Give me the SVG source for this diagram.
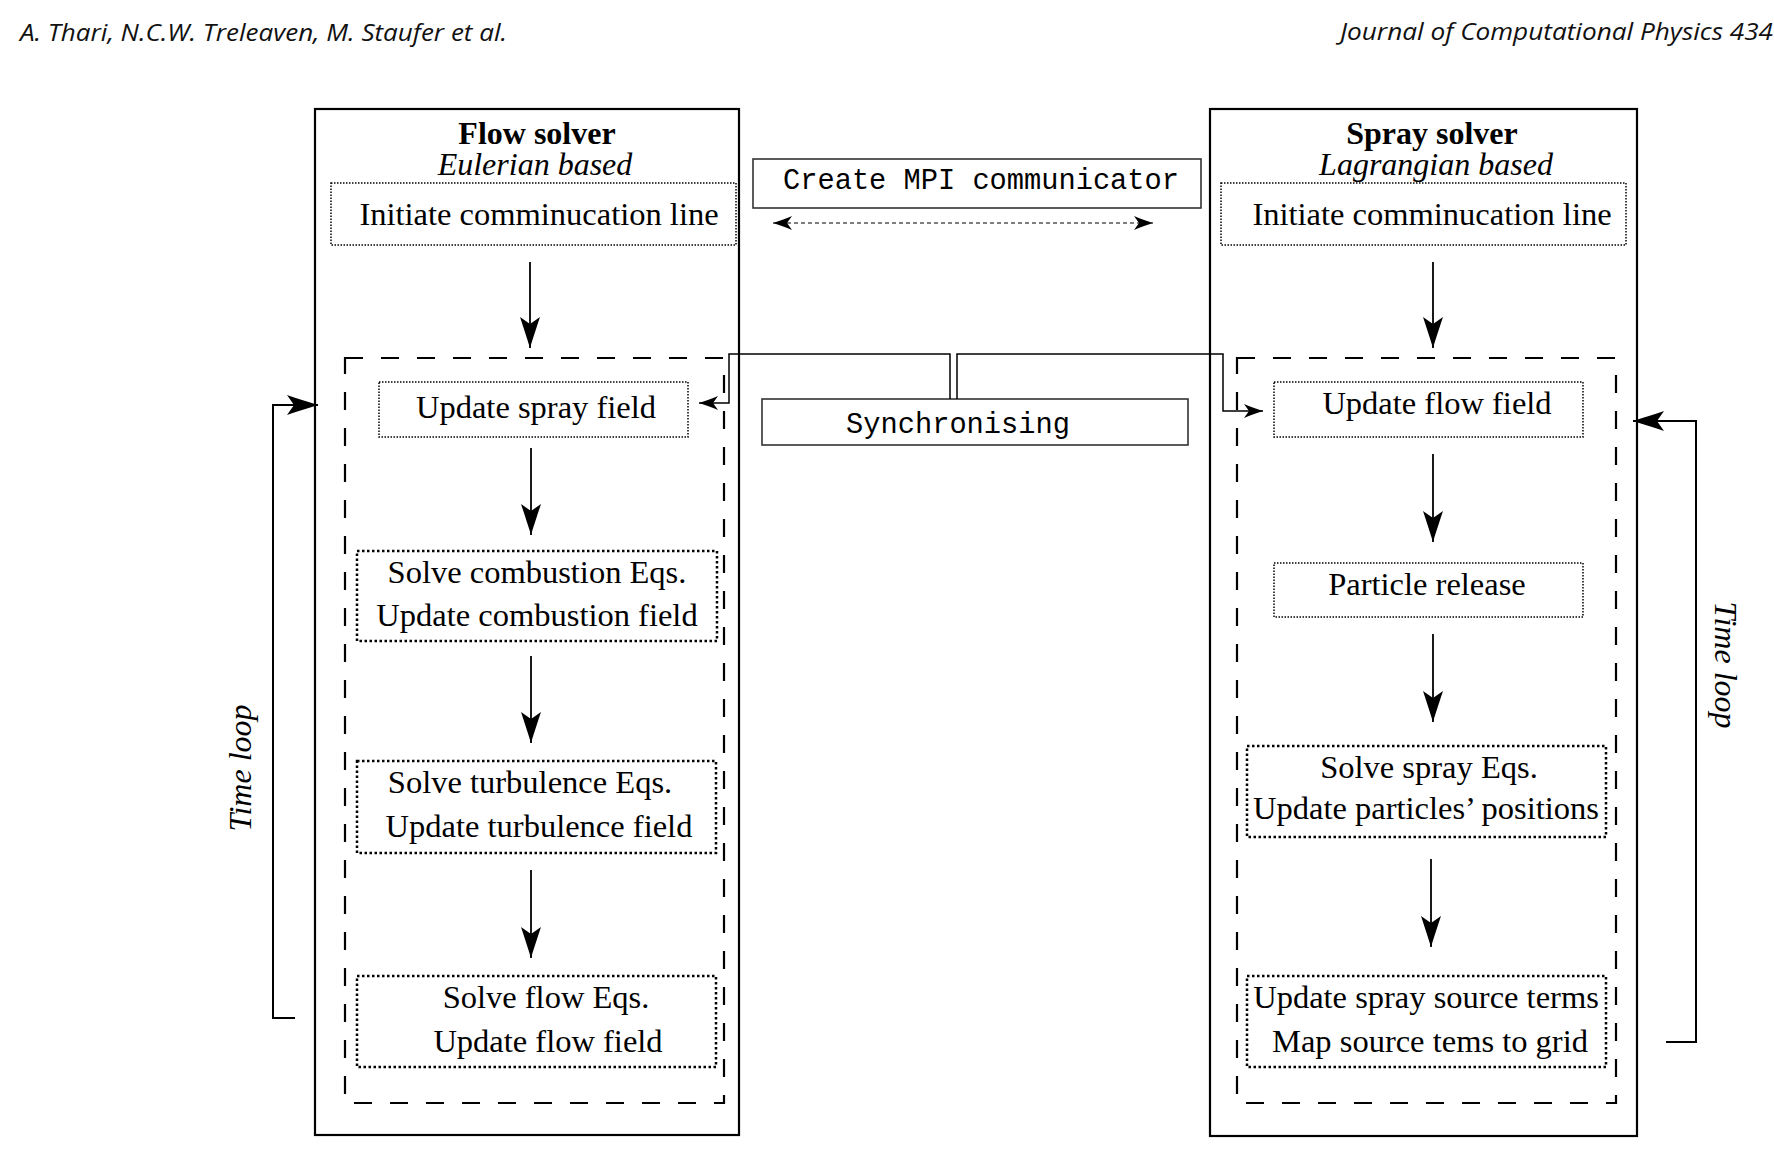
<svg xmlns="http://www.w3.org/2000/svg" width="1774" height="1158" viewBox="0 0 1774 1158">
<defs>
<marker id="big" markerUnits="userSpaceOnUse" viewBox="-34 -12 36 24" refX="0" refY="0" markerWidth="36" markerHeight="24" orient="auto" overflow="visible">
<path d="M0,0 C-10,-3 -22,-7 -31,-10 L-24,0 L-31,10 C-22,7 -10,3 0,0 Z" fill="#000"/>
</marker>
<marker id="small" markerUnits="userSpaceOnUse" viewBox="-22 -8 24 16" refX="0" refY="0" markerWidth="24" markerHeight="16" orient="auto-start-reverse" overflow="visible">
<path d="M0,0 C-7,-2 -14,-5 -19,-7 L-14,0 L-19,7 C-14,5 -7,2 0,0 Z" fill="#000"/>
</marker>
</defs>
<style>
.hdr{font-family:"Open Sans","Noto Sans",sans-serif;font-style:italic;font-size:24px;fill:#111}
.t{font-family:"Liberation Serif","Times New Roman",serif;font-size:32.5px;fill:#000}
.ti{font-family:"Liberation Serif","Times New Roman",serif;font-size:32px;font-style:italic;fill:#000}
.tb{font-family:"Liberation Serif","Times New Roman",serif;font-size:32px;font-weight:bold;fill:#000}
.m{font-family:"Liberation Mono","Courier New",monospace;font-size:28.7px;fill:#000}
.c{text-anchor:middle}
.outer{fill:none;stroke:#000;stroke-width:2.2}
.loop{fill:none;stroke:#000;stroke-width:2.2;stroke-dasharray:18 18}
.fine{fill:none;stroke:#000;stroke-width:1.5;stroke-dasharray:1.5 1.5}
.coarse{fill:none;stroke:#000;stroke-width:2.5;stroke-dasharray:2.5 2.5}
.mbox{fill:none;stroke:#333;stroke-width:1.6}
.arr{fill:none;stroke:#000;stroke-width:1.8;marker-end:url(#big)}
.tl{fill:none;stroke:#000;stroke-width:2;marker-end:url(#big)}
.sync{fill:none;stroke:#000;stroke-width:1.5;marker-end:url(#small)}
.mpi{fill:none;stroke:#000;stroke-width:1.2;stroke-dasharray:4 3;marker-start:url(#small);marker-end:url(#small)}
</style>
<rect width="1774" height="1158" fill="#fff"/>
<text class="hdr" x="20" y="41" textLength="487" lengthAdjust="spacingAndGlyphs">A. Thari, N.C.W. Treleaven, M. Staufer et al.</text>
<text class="hdr" x="1340" y="40" textLength="433" lengthAdjust="spacingAndGlyphs">Journal of Computational Physics 434</text>

<g id="flow-solver">
<rect class="outer" x="315" y="109" width="424" height="1026"/>
<text class="tb c" x="537" y="144">Flow solver</text>
<text class="ti c" x="535" y="175">Eulerian based</text>
</g>
<g id="spray-solver">
<rect class="outer" x="1210" y="109" width="427" height="1027"/>
<text class="tb c" x="1432" y="144">Spray solver</text>
<text class="ti c" x="1436" y="175">Lagrangian based</text>
</g>
<g id="flow-loop"><rect class="loop" x="345" y="358" width="379" height="745"/></g>
<g id="spray-loop"><rect class="loop" x="1237" y="358" width="379" height="745"/></g>

<g id="flow-init">
<rect class="fine" x="331" y="183" width="405" height="62"/>
<text class="t c" x="539" y="225">Initiate comminucation line</text>
</g>
<g id="spray-init">
<rect class="fine" x="1221" y="183" width="405" height="62"/>
<text class="t c" x="1432" y="225">Initiate comminucation line</text>
</g>
<g id="mpi">
<rect class="mbox" x="753" y="159" width="448" height="49"/>
<text class="m c" x="981" y="189">Create MPI communicator</text>
</g>
<g id="sync">
<rect class="mbox" x="762" y="399" width="426" height="46"/>
<text class="m c" x="958" y="433">Synchronising</text>
</g>

<g id="update-spray">
<rect class="fine" x="379" y="382" width="309" height="55"/>
<text class="t c" x="536" y="418">Update spray field</text>
</g>
<g id="combustion">
<rect class="coarse" x="357" y="551" width="360" height="90"/>
<text class="t c" x="537" y="583">Solve combustion Eqs.</text>
<text class="t c" x="537" y="626">Update combustion field</text>
</g>
<g id="turbulence">
<rect class="coarse" x="357" y="761" width="359" height="92"/>
<text class="t c" x="530" y="793">Solve turbulence Eqs.</text>
<text class="t c" x="539" y="837">Update turbulence field</text>
</g>
<g id="flow-eqs">
<rect class="coarse" x="357" y="976" width="359" height="91"/>
<text class="t c" x="546" y="1008">Solve flow Eqs.</text>
<text class="t c" x="548" y="1052">Update flow field</text>
</g>

<g id="update-flow">
<rect class="fine" x="1274" y="382" width="309" height="55"/>
<text class="t c" x="1437" y="414">Update flow field</text>
</g>
<g id="particle-release">
<rect class="fine" x="1274" y="563" width="309" height="54"/>
<text class="t c" x="1427" y="595">Particle release</text>
</g>
<g id="spray-eqs">
<rect class="coarse" x="1247" y="746" width="359" height="91"/>
<text class="t c" x="1429" y="778">Solve spray Eqs.</text>
<text class="t c" x="1426" y="819">Update particles’ positions</text>
</g>
<g id="source-terms">
<rect class="coarse" x="1247" y="976" width="359" height="91"/>
<text class="t c" x="1426" y="1008">Update spray source terms</text>
<text class="t c" x="1430" y="1052">Map source tems to grid</text>
</g>

<g id="time-loop-labels">
<text class="ti c" transform="translate(251,768) rotate(-90)">Time loop</text>
<text class="ti c" transform="translate(1715,665) rotate(90)">Time loop</text>
</g>

<g id="connectors">
<path class="arr" d="M530,262 V348"/>
<path class="arr" d="M531,448 V535"/>
<path class="arr" d="M531,656 V743"/>
<path class="arr" d="M531,870 V958"/>
<path class="arr" d="M1433,262 V348"/>
<path class="arr" d="M1433,454 V542"/>
<path class="arr" d="M1433,634 V722"/>
<path class="arr" d="M1431,859 V947"/>
<path class="tl" d="M295,1018 H273 V405 H318"/>
<path class="tl" d="M1666,1042 H1696 V421 H1633"/>
<path class="sync" d="M950,399 V354 H729 V403 H699"/>
<path class="sync" d="M957,399 V354 H1223 V411 H1263"/>
<path class="mpi" d="M773,223 H1153"/>
</g>
</svg>
